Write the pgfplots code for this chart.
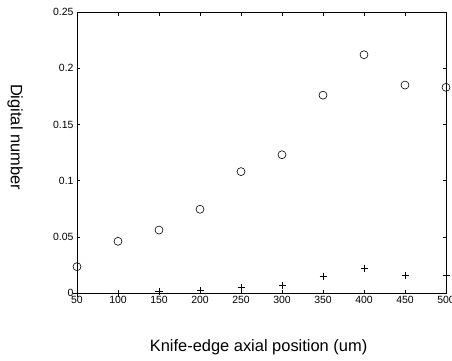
\documentclass[border=0pt]{standalone}
\usepackage{fontspec}
\setmainfont{Liberation Sans}
\usepackage{pgfplots}
\pgfplotsset{compat=1.18}
\begin{document}
\begin{tikzpicture}
\begin{axis}[
  scale only axis,
  width=369bp, height=281bp,
  xmin=50, xmax=500, ymin=0, ymax=0.25,
  xtick={50,100,...,500},
  ytick={0,0.05,0.1,0.15,0.2,0.25},
  yticklabels={0,0.05,0.1,0.15,0.2,0.25},
  tick align=inside,
  major tick length=3.5bp,
  tick style={black, line width=0.6bp},
  axis line style={line width=0.8bp},
  /pgf/number format/assume math mode=true,
  tick label style={font=\fontsize{10.5}{12}\selectfont},
  label style={font=\fontsize{16.5}{19}\selectfont},
  xlabel={Knife-edge axial position (um)},
  ylabel={Digital number},
  xlabel style={at={(axis description cs:0.492,-0.192)}, anchor=center},
  ylabel style={at={(axis description cs:-0.168,0.555)}, anchor=center, rotate=180},
  clip=false,
]
\addplot[only marks, mark=o, mark size=4bp, mark options={line width=0.6bp, black}] coordinates {
(50,0.0234) (100,0.046) (150,0.056) (200,0.0745) (250,0.108) (300,0.123) (350,0.176) (400,0.212) (450,0.185) (500,0.183)
};
\addplot[only marks, mark=+, mark size=3.5bp, mark options={line width=0.8bp, black}] coordinates {
(50,0) (100,0) (150,0.001) (200,0.002) (250,0.005) (300,0.0065) (350,0.015) (400,0.022) (450,0.016) (500,0.0155)
};
\coordinate (sw) at (rel axis cs:0,0);
\coordinate (ne) at (rel axis cs:1,1);
\end{axis}
\pgfresetboundingbox
\path ([shift={(-77bp,-68bp)}]sw) rectangle ([shift={(6bp,12bp)}]ne);
\end{tikzpicture}
\end{document}
